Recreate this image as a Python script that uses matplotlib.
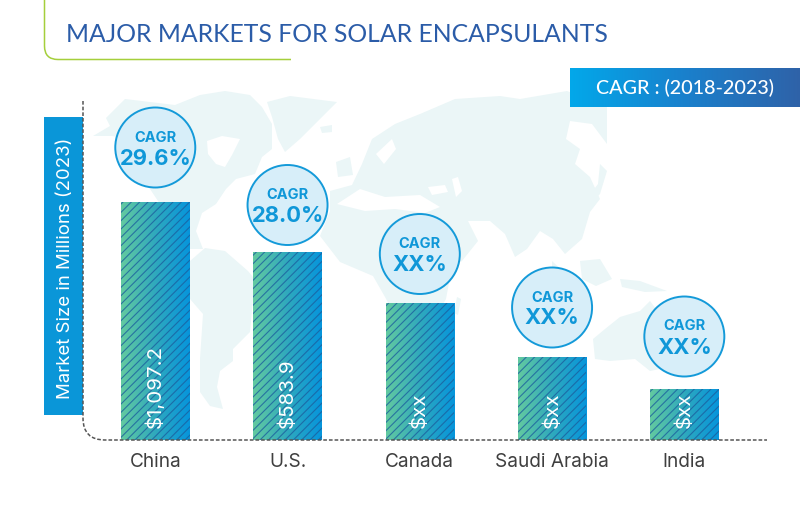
import numpy as np
import matplotlib
matplotlib.use("Agg")
import matplotlib.pyplot as plt
from matplotlib.patches import Circle, Polygon, PathPatch, Rectangle
from matplotlib.path import Path
from matplotlib.colors import LinearSegmentedColormap

categories = ["China", "U.S.", "Canada", "Saudi Arabia", "India"]
bar_heights = [238, 188, 137, 83, 51]
value_labels = ["$1,097.2", "$583.9", "$xx", "$xx", "$xx"]
cagr_labels = ["29.6%", "28.0%", "XX%", "XX%", "XX%"]
circle_gaps = [54.5, 47, 49, 49.5, 52.5]

title = "MAJOR MARKETS FOR SOLAR ENCAPSULANTS"
ylabel = "Market Size in Millions (2023)"
ribbon_text = "CAGR : (2018-2023)"

W, H = 800, 506
FONT = "Inter"
FONT2 = "Lato"
fig = plt.figure(figsize=(W / 100, H / 100), dpi=100, facecolor="white")

# background layer in pixel coordinates
bg = fig.add_axes([0, 0, 1, 1], zorder=0)
bg.set_xlim(0, W); bg.set_ylim(H, 0); bg.axis("off")
MAP = "#ebf6f7"
land = [
    # North America
    [(93,137),(110,127),(106,119),(125,100),(150,103),(175,106),(200,96),(225,92),(250,96),(262,108),
     (272,125),(272,150),(262,158),(255,175),(236,180),(226,190),(216,205),(202,214),(196,232),(203,250),
     (190,250),(172,232),(160,205),(140,175),(128,140),(112,137)],
    # Greenland
    [(267,103),(290,97),(337,103),(322,118),(300,140),(285,153),(278,140),(272,118)],
    # South America
    [(190,262),(205,249),(225,252),(248,272),(258,284),(253,300),(250,333),(233,350),(233,362),(220,372),
     (217,388),(223,410),(210,407),(200,393),(200,360),(203,315),(190,300)],
    # Eurasia and Africa
    [(352,186),(362,165),(372,140),(395,125),(420,115),(455,100),(500,97),(520,100),(567,92),(607,107),
     (607,145),(592,125),(570,122),(566,140),(580,150),(575,165),(590,178),(600,200),(590,213),(582,240),
     (565,255),(553,240),(540,232),(527,250),(515,258),(505,235),(490,222),(468,222),(478,242),(462,262),
     (452,268),(446,300),(425,335),(405,335),(385,298),(373,277),(340,263),(320,237),(330,212),(330,192)],
    # Madagascar
    [(457,298),(461,300),(458,316),(454,314)],
    # Britain, Iceland, Japan, islands
    [(336,163),(350,158),(353,176),(338,178)],
    [(320,128),(332,126),(332,133),(322,134)],
    [(600,165),(607,172),(600,195),(592,203),(588,198),(598,185)],
    [(580,262),(600,260),(612,280),(596,287),(582,280)],
    [(620,280),(640,282),(667,292),(645,293),(622,288)],
    [(552,262),(566,275),(578,285),(570,288),(552,272)],
    # Australia
    [(605,330),(620,318),(640,312),(650,302),(662,318),(677,345),(670,368),(650,372),(635,360),(610,362),(595,360),(593,340)],
]
for pts in land:
    bg.add_patch(Polygon(pts, closed=True, fc=MAP, ec="none"))
water = [
    [(207,142),(222,137),(240,140),(232,156),(225,168),(216,165),(208,155)],
    [(337,205),(360,190),(385,198),(420,196),(440,208),(425,214),(395,210),(365,212)],
    [(428,188),(445,186),(448,193),(432,196)],
    [(452,180),(458,178),(462,192),(456,198)],
    [(376,155),(392,140),(396,150),(384,165)],
]
for pts in water:
    bg.add_patch(Polygon(pts, closed=True, fc="white", ec="none"))

# data axes, baseline at y=441 px
x0, x1, y_top, y_base = 83, 767, 100, 441
ax = fig.add_axes([x0 / W, 1 - y_base / H, (x1 - x0) / W, (y_base - y_top) / H], zorder=1)
ax.patch.set_alpha(0)
pos = np.arange(len(categories))
ax.set_xlim(-0.5465, 4.625)
ax.set_ylim(0, y_base - y_top)
width = 68.5 / 132.25
bars = ax.bar(pos, bar_heights, width=width, color="none", zorder=2)
cmap = LinearSegmentedColormap.from_list("bar", ["#63caa0", "#2fa9bd", "#0695dc"])
grad = np.linspace(0, 1, 256).reshape(1, -1)
for b in bars:
    im = ax.imshow(grad, cmap=cmap, aspect="auto", zorder=2,
                   extent=[b.get_x(), b.get_x() + b.get_width(), 0, b.get_height()])
    im.set_clip_path(Rectangle((b.get_x(), 0), b.get_width(), b.get_height(), transform=ax.transData))
plt.rcParams["hatch.linewidth"] = 0.8
ax.set_xlim(-0.5465, 4.625)
ax.set_ylim(0, y_base - y_top)
ax.bar(pos, bar_heights, width=width, facecolor="none", edgecolor="#1c5f9e", hatch="////", linewidth=0, alpha=0.8, zorder=3)
for i, lab in enumerate(value_labels):
    ax.annotate(lab, (pos[i], 0), xytext=(0, 13), textcoords="offset pixels", rotation=90,
                ha="center", va="bottom", color="white", fontsize=14.8, family=FONT, zorder=5)
for s in ax.spines.values():
    s.set_visible(False)
ax.set_yticks([])
ax.set_xticks(pos, categories, fontsize=13.7, color="#3f3f3f", family=FONT)
ax.tick_params(axis="x", length=0, pad=9)

# foreground layer in pixel coordinates
fg = fig.add_axes([0, 0, 1, 1], zorder=2)
fg.set_xlim(0, W); fg.set_ylim(H, 0); fg.axis("off"); fg.patch.set_alpha(0)

# axis lines
axis_path = Path([(83, 102), (83, 419), (83, 441), (105, 441), (767, 441)],
                 [Path.MOVETO, Path.LINETO, Path.CURVE3, Path.CURVE3, Path.LINETO])
fg.add_patch(PathPatch(axis_path, fc="none", ec="#555555", lw=1.1, ls=(0, (2.4, 1.3)), zorder=4))

# title bracket
br = Path([(44.5, 0), (44.5, 47), (44.5, 60.5), (58, 60.5), (291, 60.5)],
          [Path.MOVETO, Path.LINETO, Path.CURVE3, Path.CURVE3, Path.LINETO])
fg.add_patch(PathPatch(br, fc="none", ec="#a5cf3c", lw=1.1))
fg.text(66, 34, title, fontsize=17.8, color="#2b5ca8", family=FONT2, va="center", ha="left")

# y label box
fg.add_patch(Rectangle((44, 118), 39, 298, fc="#0a96d8", ec="none", zorder=3))
fg.text(65.5, 268, ylabel, rotation=90, color="white", fontsize=13.4, family=FONT,
        ha="center", va="center", zorder=5)

# ribbon
rib = LinearSegmentedColormap.from_list("rib", ["#02a8ea", "#1a80cc", "#2f62a8"])
fg.imshow(np.linspace(0, 1, 256).reshape(1, -1), cmap=rib, aspect="auto", extent=[569.5, 800, 108, 69], zorder=3)
fg.set_xlim(0, W); fg.set_ylim(H, 0)
fg.text(685, 88.5, ribbon_text, color="white", fontsize=14.2, family=FONT2, fontweight="medium",
        ha="center", va="center", zorder=5)

# CAGR bubbles tied to the bars
fig.canvas.draw()
for i, b in enumerate(bars):
    px, py = ax.transData.transform((pos[i], b.get_height()))
    cx, cy = px, H - py - circle_gaps[i]
    fg.add_patch(Circle((cx, cy), 40, fc="#d7eef9", ec="#149ad9", lw=1.4, zorder=6))
    fg.text(cx, cy - 11, "CAGR", color="#0f97d8", fontsize=10.5, family=FONT, fontweight="bold",
            ha="center", va="center", zorder=7)
    fg.text(cx, cy + 10, cagr_labels[i], color="#0f97d8", fontsize=15.8, family=FONT, fontweight="bold",
            ha="center", va="center", zorder=7)

fig.savefig("out.png", dpi=100, facecolor="white")
